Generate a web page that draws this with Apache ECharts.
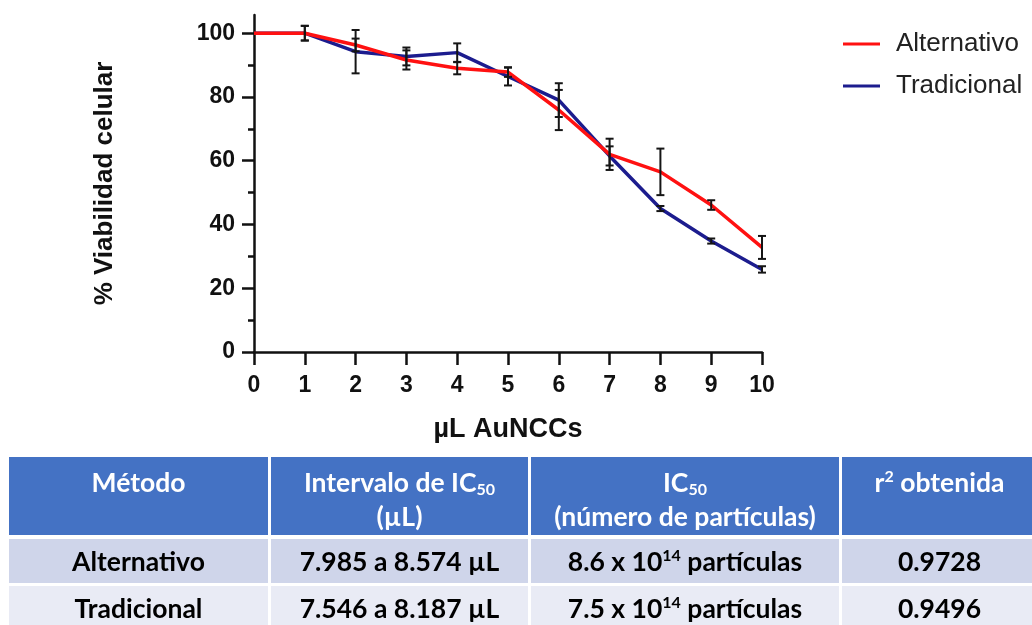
<!DOCTYPE html>
<html>
<head>
<meta charset="utf-8">
<script src="https://cdn.jsdelivr.net/npm/echarts@6/dist/echarts.min.js"></script>
<style>
html,body{margin:0;padding:0;background:#fff;}
#chart{position:absolute;left:0;top:0;width:1032px;height:625px;}
#tbl{position:absolute;left:9px;top:457px;display:grid;
  grid-template-columns:259px 257px 308px 195px;
  grid-template-rows:78px 44px 44px;column-gap:3px;row-gap:3.5px;
  font-family:Lato,"Open Sans",sans-serif;font-weight:bold;font-size:26.5px;color:#000;}
#tbl div{text-align:center;box-sizing:border-box;white-space:nowrap;}
#tbl .h{background:#4472c4;color:#fff;line-height:34px;padding-top:8px;}
#tbl .r1{background:#cfd5ea;line-height:44px;}
#tbl .r2{background:#e9ebf5;line-height:44px;}
#tbl sub{font-size:16px;vertical-align:-3px;line-height:0;}
#tbl sup{font-size:16px;vertical-align:10px;line-height:0;}
</style>
</head>
<body>
<div id="chart"></div>
<div id="tbl"></div>
<script>
// ---- chart data ----
const xValues = [0, 1, 2, 3, 4, 5, 6, 7, 8, 9, 10];
const alternativo    = [100, 100, 96.3, 91.6, 89.0, 87.8, 75.9, 62.0, 56.5, 46.1, 32.8];
const alternativoErr = [0,   2.3, 2.0,  3.0,  1.9,  1.5,  6.3,  4.9,  7.3,  1.5,  3.6];
const tradicional    = [100, 100, 94.2, 92.7, 93.9, 86.4, 79.0, 61.5, 45.0, 34.8, 25.9];
const tradicionalErr = [0,   2.3, 6.8,  2.8,  2.9,  2.8,  5.3,  3.0,  0.8,  0.8,  1.0];
const yTicks = [0, 20, 40, 60, 80, 100];
const yMinorTicks = [10, 30, 50, 70, 90];
const seriesNames = ['Alternativo', 'Tradicional'];
const seriesColors = ['#ff1111', '#1c1c8e'];

// ---- table data ----
const tableHeaders = ['Método', 'Intervalo de IC<sub>50</sub><br>(µL)', 'IC<sub>50</sub><br>(número de partículas)', 'r<sup>2</sup> obtenida'];
const methods = ['Alternativo', 'Tradicional'];
const intervals = ['7.985 a 8.574 µL', '7.546 a 8.187 µL'];
const ic50Mantissa = ['8.6', '7.5'];
const ic50Exponent = ['14', '14'];
const r2Values = ['0.9728', '0.9496'];

// build table
const tbl = document.getElementById('tbl');
let html = '';
tableHeaders.forEach(h => { html += '<div class="h">' + h + '</div>'; });
methods.forEach((m, i) => {
  const cls = i === 0 ? 'r1' : 'r2';
  html += '<div class="' + cls + '">' + m + '</div>';
  html += '<div class="' + cls + '">' + intervals[i] + '</div>';
  html += '<div class="' + cls + '">' + ic50Mantissa[i] + ' x 10<sup>' + ic50Exponent[i] + '</sup> partículas</div>';
  html += '<div class="' + cls + '">' + r2Values[i] + '</div>';
});
tbl.innerHTML = html;

const FONT = '"Liberation Sans", Arial, sans-serif';
const AX = '#111';

function errSeries(vals, errs, name) {
  return {
    type: 'custom',
    name: name,
    yAxisIndex: 0,
    silent: true,
    z: 5,
    data: xValues.map((x, i) => [x, vals[i] - errs[i], vals[i] + errs[i]]),
    encode: { x: 0, y: [1, 2] },
    renderItem: function (params, api) {
      const x = api.value(0);
      const lo = api.coord([x, api.value(1)]);
      const hi = api.coord([x, api.value(2)]);
      if (Math.abs(lo[1] - hi[1]) < 0.5) return null;
      const cw = 4;
      const st = { stroke: '#151515', lineWidth: 2 };
      return {
        type: 'group',
        children: [
          { type: 'line', shape: { x1: lo[0], y1: lo[1], x2: hi[0], y2: hi[1] }, style: st },
          { type: 'line', shape: { x1: lo[0] - cw, y1: lo[1], x2: lo[0] + cw, y2: lo[1] }, style: st },
          { type: 'line', shape: { x1: hi[0] - cw, y1: hi[1], x2: hi[0] + cw, y2: hi[1] }, style: st }
        ]
      };
    }
  };
}

function lineSeries(name, vals, color, z) {
  return {
    type: 'line',
    name: name,
    yAxisIndex: 0,
    data: xValues.map((x, i) => [x, vals[i]]),
    symbol: 'none',
    lineStyle: { width: 3.5, color: color },
    itemStyle: { color: color },
    z: z
  };
}

const chart = echarts.init(document.getElementById('chart'), null, { renderer: 'canvas' });
chart.setOption({
  animation: false,
  backgroundColor: '#fff',
  textStyle: { fontFamily: FONT },
  grid: { left: 254, right: 270, top: 15, bottom: 273, containLabel: false },
  legend: {
    data: seriesNames,
    orient: 'vertical',
    left: 838,
    top: 26,
    icon: 'rect',
    itemWidth: 37,
    itemHeight: 3,
    itemGap: 16,
    textStyle: { fontSize: 26, color: '#222', fontFamily: FONT, padding: [0, 0, 0, 11] }
  },
  xAxis: {
    type: 'value',
    min: 0, max: 10, interval: 1,
    name: 'µL AuNCCs',
    nameLocation: 'middle',
    nameGap: 64,
    nameTextStyle: { fontSize: 27, fontWeight: 'bold', color: AX, fontFamily: FONT },
    axisLine: { show: true, lineStyle: { color: AX, width: 2.5 } },
    axisTick: { show: true, length: 13, lineStyle: { color: AX, width: 2.5 } },
    axisLabel: { fontSize: 23, fontWeight: 'bold', color: AX, margin: 22, fontFamily: FONT },
    splitLine: { show: false }
  },
  yAxis: [
    {
      type: 'value',
      min: 0, max: 105.7,
      position: 'left',
      name: '% Viabilidad celular',
      nameLocation: 'middle',
      nameGap: 136,
      nameTextStyle: { fontSize: 26, fontWeight: 'bold', color: AX, fontFamily: FONT },
      axisLine: { show: true, lineStyle: { color: AX, width: 2.5 } },
      axisTick: { show: true, length: 12, customValues: yTicks, lineStyle: { color: AX, width: 2.5 } },
      axisLabel: { customValues: yTicks, fontSize: 23, fontWeight: 'bold', color: AX, margin: 19, fontFamily: FONT },
      splitLine: { show: false }
    },
    {
      type: 'value',
      min: 0, max: 105.7,
      position: 'left',
      offset: 0,
      axisLine: { show: false },
      axisTick: { show: true, length: 6, customValues: yMinorTicks, lineStyle: { color: AX, width: 2.5 } },
      axisLabel: { show: false },
      splitLine: { show: false }
    }
  ],
  series: [
    lineSeries(seriesNames[1], tradicional, seriesColors[1], 3),
    lineSeries(seriesNames[0], alternativo, seriesColors[0], 4),
    errSeries(alternativo, alternativoErr, 'errAlternativo'),
    errSeries(tradicional, tradicionalErr, 'errTradicional')
  ]
});
</script>
</body>
</html>
